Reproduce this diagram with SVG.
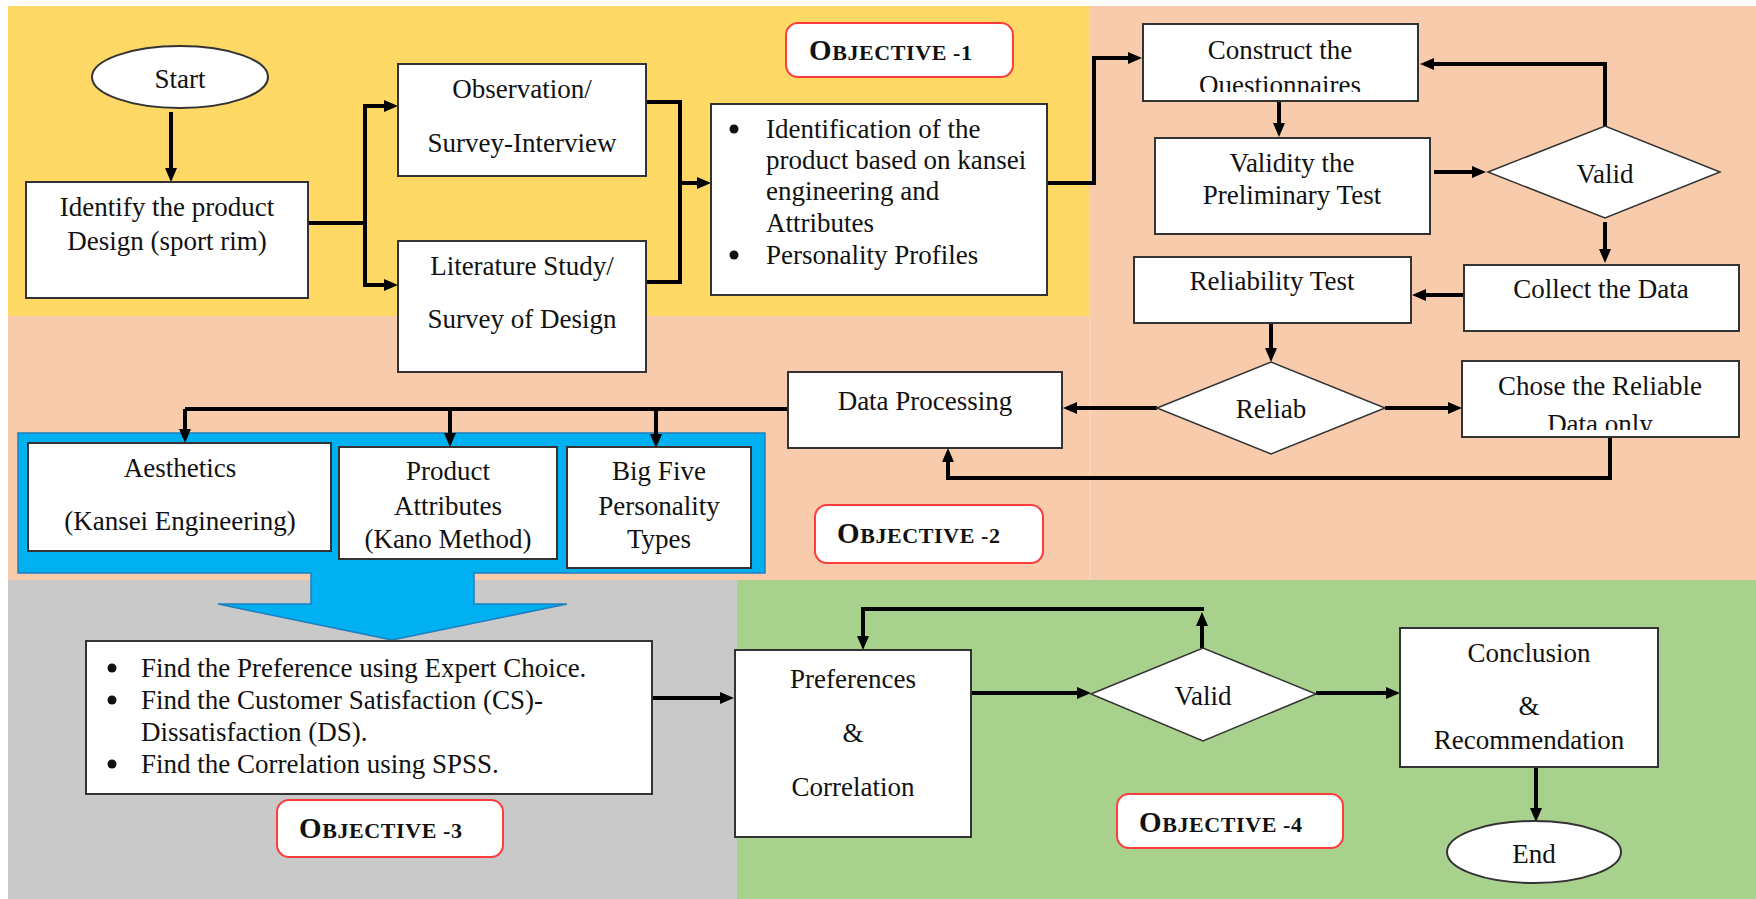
<svg xmlns="http://www.w3.org/2000/svg" width="1756" height="899" viewBox="0 0 1756 899">
<defs>
<style>
text{font-family:"Liberation Serif","Times New Roman",serif;font-size:27px;fill:#111}
.c{text-anchor:middle}
.box{fill:#fff;stroke:#333;stroke-width:2}
.obj{fill:#fff;stroke:#ff3b3b;stroke-width:2}
.ob{font-weight:bold;letter-spacing:0.6px}
.conn{fill:none;stroke:#000;stroke-width:4}
.a{marker-end:url(#ah)}
.a2{marker-start:url(#ah);marker-end:url(#ah)}
</style>
<marker id="ah" viewBox="0 0 14 12" refX="6" refY="6" markerWidth="14" markerHeight="12" markerUnits="userSpaceOnUse" orient="auto-start-reverse">
<path d="M0,0 L14,6 L0,12 Z" fill="#000"/>
</marker>
<clipPath id="clipQ"><rect x="1143" y="24" width="275" height="68"/></clipPath>
<clipPath id="clipD"><rect x="1462" y="361" width="277" height="69"/></clipPath>
</defs>
<rect width="1756" height="899" fill="#fff"/>
<g id="background">
<rect x="8" y="6" width="1082" height="310" fill="#FFD966"/>
<rect x="1090" y="6" width="666" height="574" fill="#F8CBAD"/>
<rect x="8" y="316" width="1082" height="264" fill="#F8CBAD"/>
<line x1="1090" y1="316" x2="1090" y2="580" stroke="#FADCC8" stroke-width="1"/>
<rect x="8" y="580" width="729" height="319" fill="#C9C9C9"/>
<rect x="737" y="580" width="1019" height="319" fill="#A9D18E"/>
</g>
<g id="blue-panel">
<path d="M18,433 H765 V573 H474 V604 H567 L392,640 L218,604 H311 V573 H18 Z" fill="#00B0F0" stroke="#1F7FC0" stroke-width="1.5"/>
</g>
<g id="connectors">
<path class="conn a" d="M171,112 V174"/>
<path class="conn" d="M308,223 H365"/>
<path class="conn a2" d="M390,106 H365 V285 H390"/>
<path class="conn" d="M646,102 H680 V282 H646"/>
<path class="conn a" d="M680,183 H703"/>
<path class="conn a" d="M1047,183 H1094 V58 H1134"/>
<path class="conn a" d="M1279,101 V129"/>
<path class="conn a" d="M1434,172 H1478"/>
<path class="conn a" d="M1605,126 V64 H1428"/>
<path class="conn a" d="M1605,222 V255"/>
<path class="conn a" d="M1464,295 H1420"/>
<path class="conn a" d="M1271,323 V354"/>
<path class="conn a" d="M1157,408 H1071"/>
<path class="conn a" d="M1385,408 H1454"/>
<path class="conn a" d="M1610,437 V478 H948 V456"/>
<path class="conn" d="M788,409 H185"/>
<path class="conn a" d="M185,409 V435"/>
<path class="conn a" d="M450,409 V439"/>
<path class="conn a" d="M656,409 V440"/>
<path class="conn a" d="M652,698 H726"/>
<path class="conn a" d="M971,693 H1083"/>
<path class="conn a" d="M1202,648 V620"/>
<path class="conn a" d="M1204,609 H863 V642"/>
<path class="conn a" d="M1316,693 H1392"/>
<path class="conn a" d="M1536,767 V814"/>
</g>
<g id="start">
<ellipse cx="180" cy="77" rx="88" ry="31" class="box"/>
<text x="180" y="88" class="c">Start</text>
</g>
<g id="identify">
<rect x="26" y="182" width="282" height="116" class="box"/>
<text x="167" y="216" class="c">Identify the product</text>
<text x="167" y="250" class="c">Design (sport rim)</text>
</g>
<g id="observation">
<rect x="398" y="64" width="248" height="112" class="box"/>
<text x="522" y="98" class="c">Observation/</text>
<text x="522" y="152" class="c">Survey-Interview</text>
</g>
<g id="literature">
<rect x="398" y="241" width="248" height="131" class="box"/>
<text x="522" y="275" class="c">Literature Study/</text>
<text x="522" y="328" class="c">Survey of Design</text>
</g>
<g id="objective1">
<rect x="786" y="23" width="227" height="54" rx="12" class="obj"/>
<text x="809" y="60" class="ob"><tspan font-size="29">O</tspan><tspan font-size="22">BJECTIVE -1</tspan></text>
</g>
<g id="identification">
<rect x="711" y="104" width="336" height="191" class="box"/>
<circle cx="734" cy="129" r="4.5" fill="#111"/>
<circle cx="734" cy="255" r="4.5" fill="#111"/>
<text x="766" y="138">Identification of the</text>
<text x="766" y="169">product based on kansei</text>
<text x="766" y="200">engineering and</text>
<text x="766" y="232">Attributes</text>
<text x="766" y="264">Personality Profiles</text>
</g>
<g id="construct">
<rect x="1143" y="24" width="275" height="77" class="box"/>
<text x="1280" y="59" class="c">Construct the</text>
<text x="1280" y="94" class="c" clip-path="url(#clipQ)">Questionnaires</text>
</g>
<g id="validity">
<rect x="1155" y="138" width="275" height="96" class="box"/>
<text x="1292" y="172" class="c">Validity the</text>
<text x="1292" y="204" class="c">Preliminary Test</text>
</g>
<g id="valid1">
<polygon points="1488,172 1605,126 1720,172 1605,218" fill="#fff" stroke="#333" stroke-width="1.5"/>
<text x="1605" y="183" class="c">Valid</text>
</g>
<g id="collect">
<rect x="1464" y="265" width="275" height="66" class="box"/>
<text x="1601" y="298" class="c">Collect the Data</text>
</g>
<g id="reliability">
<rect x="1134" y="257" width="277" height="66" class="box"/>
<text x="1272" y="290" class="c">Reliability Test</text>
</g>
<g id="reliab">
<polygon points="1157,408 1271,362 1385,408 1271,454" fill="#fff" stroke="#333" stroke-width="1.5"/>
<text x="1271" y="418" class="c">Reliab</text>
</g>
<g id="chose">
<rect x="1462" y="361" width="277" height="76" class="box"/>
<text x="1600" y="395" class="c">Chose the Reliable</text>
<text x="1600" y="433" class="c" clip-path="url(#clipD)">Data only</text>
</g>
<g id="data-processing">
<rect x="788" y="372" width="274" height="76" class="box"/>
<text x="925" y="410" class="c">Data Processing</text>
</g>
<g id="objective2">
<rect x="815" y="505" width="228" height="58" rx="12" class="obj"/>
<text x="837" y="543" class="ob"><tspan font-size="29">O</tspan><tspan font-size="22">BJECTIVE -2</tspan></text>
</g>
<g id="aesthetics">
<rect x="28" y="443" width="303" height="108" class="box"/>
<text x="180" y="477" class="c">Aesthetics</text>
<text x="180" y="530" class="c">(Kansei Engineering)</text>
</g>
<g id="product-attributes">
<rect x="339" y="447" width="218" height="112" class="box"/>
<text x="448" y="480" class="c">Product</text>
<text x="448" y="515" class="c">Attributes</text>
<text x="448" y="548" class="c">(Kano Method)</text>
</g>
<g id="big-five">
<rect x="567" y="447" width="184" height="121" class="box"/>
<text x="659" y="480" class="c">Big Five</text>
<text x="659" y="515" class="c">Personality</text>
<text x="659" y="548" class="c">Types</text>
</g>
<g id="find">
<rect x="86" y="641" width="566" height="153" class="box"/>
<circle cx="112" cy="668" r="4.5" fill="#111"/>
<circle cx="112" cy="700" r="4.5" fill="#111"/>
<circle cx="112" cy="764" r="4.5" fill="#111"/>
<text x="141" y="677">Find the Preference using Expert Choice.</text>
<text x="141" y="709">Find the Customer Satisfaction (CS)-</text>
<text x="141" y="741">Dissatisfaction (DS).</text>
<text x="141" y="773">Find the Correlation using SPSS.</text>
</g>
<g id="objective3">
<rect x="277" y="800" width="226" height="57" rx="12" class="obj"/>
<text x="299" y="838" class="ob"><tspan font-size="29">O</tspan><tspan font-size="22">BJECTIVE -3</tspan></text>
</g>
<g id="preferences">
<rect x="735" y="650" width="236" height="187" class="box"/>
<text x="853" y="688" class="c">Preferences</text>
<text x="853" y="742" class="c">&amp;</text>
<text x="853" y="796" class="c">Correlation</text>
</g>
<g id="valid2">
<polygon points="1091,694 1203,648 1316,694 1203,741" fill="#fff" stroke="#333" stroke-width="1.5"/>
<text x="1203" y="705" class="c">Valid</text>
</g>
<g id="conclusion">
<rect x="1400" y="628" width="258" height="139" class="box"/>
<text x="1529" y="662" class="c">Conclusion</text>
<text x="1529" y="715" class="c">&amp;</text>
<text x="1529" y="749" class="c">Recommendation</text>
</g>
<g id="end">
<ellipse cx="1534" cy="852" rx="87" ry="31" class="box"/>
<text x="1534" y="863" class="c">End</text>
</g>
<g id="objective4">
<rect x="1117" y="794" width="226" height="54" rx="12" class="obj"/>
<text x="1139" y="832" class="ob"><tspan font-size="29">O</tspan><tspan font-size="22">BJECTIVE -4</tspan></text>
</g>
</svg>
